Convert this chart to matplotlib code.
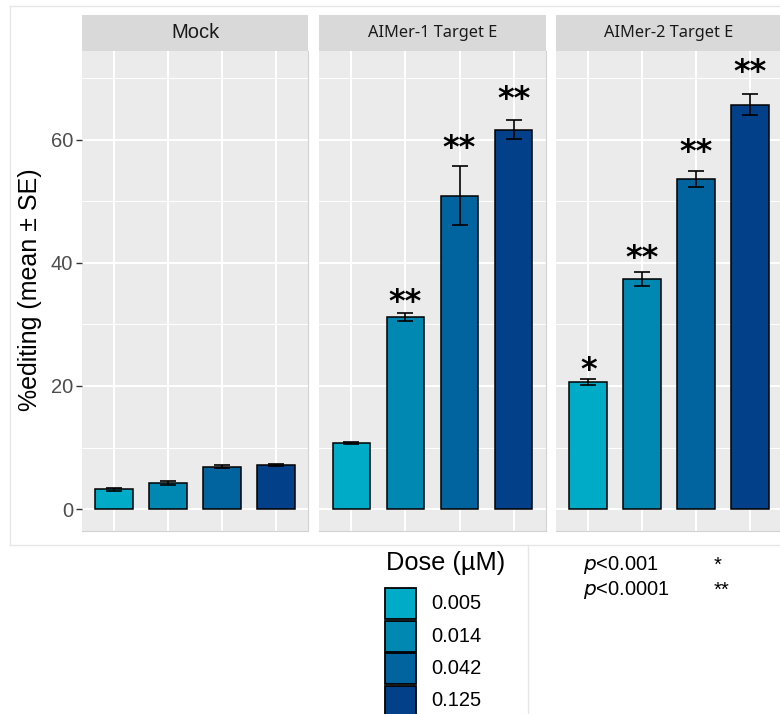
import matplotlib
matplotlib.use("Agg")
import matplotlib.pyplot as plt
import numpy as np
from matplotlib.patches import Rectangle
from matplotlib.lines import Line2D

# editing efficiency per dose, mean and standard error
groups = ["Mock", "AIMer-1 Target E", "AIMer-2 Target E"]
doses = ["0.005", "0.014", "0.042", "0.125"]
mock_mean = [3.2, 4.3, 6.9, 7.1]
mock_se = [0.2, 0.3, 0.3, 0.15]
aimer1_mean = [10.8, 31.2, 50.9, 61.6]
aimer1_se = [0.15, 0.65, 4.75, 1.55]
aimer2_mean = [20.7, 37.4, 53.6, 65.7]
aimer2_se = [0.5, 1.15, 1.35, 1.65]
mock_sig = ["", "", "", ""]
aimer1_sig = ["", "**", "**", "**"]
aimer2_sig = ["*", "**", "**", "**"]
p_labels = ["<0.001", "<0.0001"]
p_stars = ["*", "**"]

dose_colors = ["#00ABC7", "#0088B2", "#01649E", "#02418A"]
means = [mock_mean, aimer1_mean, aimer2_mean]
ses = [mock_se, aimer1_se, aimer2_se]
sigs = [mock_sig, aimer1_sig, aimer2_sig]

W, H = 780, 714
fig = plt.figure(figsize=(W / 100, H / 100), dpi=100)
fig.patch.set_facecolor("white")

gg = "Liberation Sans"
strip_font = "Noto Sans"

# panel boxes in pixels: left, width
panel_px = [(82, 226), (319, 227), (556, 226)]
top_px, bot_px = 51, 531
strip_h = 36

x = np.arange(1, 5)
for i, (left, width) in enumerate(panel_px):
    ax = fig.add_axes([left / W, 1 - bot_px / H, width / W, (bot_px - top_px) / H])
    ax.set_facecolor("#EBEBEB")
    ax.set_xlim(0.4, 4.6)
    ax.set_ylim(-3.55, 74.4)
    ax.set_yticks([0, 20, 40, 60])
    ax.set_yticks([10, 30, 50, 70], minor=True)
    ax.set_xticks(x)
    ax.grid(True, which="major", color="white", linewidth=1.5)
    ax.grid(True, which="minor", axis="y", color="white", linewidth=0.7)
    ax.set_axisbelow(True)
    for s in ["left", "top"]:
        ax.spines[s].set_visible(False)
    for s in ["bottom", "right"]:
        ax.spines[s].set_color("#D2D2D2")
        ax.spines[s].set_linewidth(0.8)
    ax.tick_params(axis="x", length=0, labelbottom=False)
    ax.tick_params(axis="y", which="minor", length=0)
    if i == 0:
        ax.tick_params(axis="y", which="major", length=4.5, width=1.0,
                       color="#333333", labelcolor="#4D4D4D", labelsize=14.5, pad=2)
        for lab in ax.get_yticklabels():
            lab.set_fontfamily(gg)
    else:
        ax.tick_params(axis="y", which="major", length=0, labelleft=False)

    m = means[i]
    e = ses[i]
    ax.bar(x, m, width=0.7, color=dose_colors, edgecolor="black", linewidth=1.1, zorder=2)
    ax.errorbar(x, m, yerr=e, fmt="none", ecolor="black", elinewidth=1.2,
                capsize=5.5, capthick=1.2, zorder=3)
    # significance stars sit a little higher above the taller bars
    for xi, mi, ei, lab in zip(x, m, e, sigs[i]):
        if lab:
            top = mi + ei
            ax.text(xi, 1.05 * top + 1.4 - 2.6, lab, ha="center", va="baseline",
                    fontsize=23, fontweight="bold", fontfamily="DejaVu Sans", color="black")

    # facet strip
    ax.add_patch(Rectangle((0, 1), 1, strip_h / (bot_px - top_px), transform=ax.transAxes,
                           facecolor="#D9D9D9", edgecolor="none", clip_on=False))
    fam = gg if i == 0 else strip_font
    fs = 14.5 if i == 0 else 11.8
    ax.text(0.5, 1 + strip_h / 2 / (bot_px - top_px), groups[i], transform=ax.transAxes,
            ha="center", va="center", fontsize=fs, fontfamily=fam, color="#1A1A1A")

fig.text(30 / W, 1 - 290 / H, "%editing (mean ± SE)", rotation=90, ha="center", va="center",
         fontsize=18, fontfamily=gg, color="black")

# light frame around the plot area
frame = dict(color="#E6E6E6", linewidth=1.0, transform=fig.transFigure)
fig.add_artist(Line2D([10 / W, 1], [1 - 6 / H, 1 - 6 / H], **frame))
fig.add_artist(Line2D([10 / W, 10 / W], [1 - 6 / H, 1 - 545 / H], **frame))
fig.add_artist(Line2D([10 / W, 1], [1 - 545 / H, 1 - 545 / H], **frame))
fig.add_artist(Line2D([528 / W, 528 / W], [1 - 545 / H, 0], **frame))

# dose legend: title, then square keys stacked downwards
fig.text(386 / W, 1 - 563 / H, "Dose (µM)", ha="left", va="center", fontsize=18.3,
         fontfamily=gg, color="black")
key_top, key_pitch, key_size = 588, 32.5, 31
for k, (c, d) in enumerate(zip(dose_colors, doses)):
    y0 = key_top + k * key_pitch
    fig.add_artist(Rectangle((385 / W, 1 - (y0 + key_size) / H), key_size / W, key_size / H,
                             transform=fig.transFigure, facecolor=c, edgecolor="black",
                             linewidth=1.3))
    fig.text(431 / W, 1 - (y0 + key_size / 2) / H, d, ha="left", va="center",
             fontsize=14.5, fontfamily=gg, color="black")

# significance key
for k, (pl, st) in enumerate(zip(p_labels, p_stars)):
    yk = 1 - (565 + 25 * k) / H
    fig.text(583 / W, yk, r"$\it{p}$" + pl, ha="left", va="center", fontsize=14.5,
             fontfamily=gg, color="black")
    fig.text(714 / W, yk, st, ha="left", va="center", fontsize=14.5,
             fontfamily=gg, color="black")

fig.savefig("out.png", dpi=100)
